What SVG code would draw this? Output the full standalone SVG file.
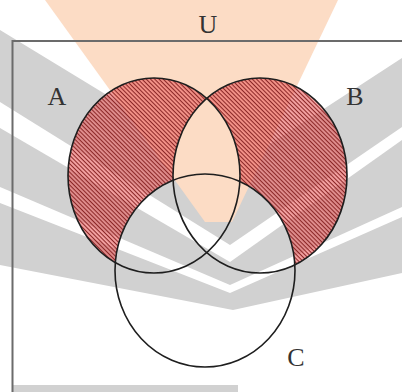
<svg xmlns="http://www.w3.org/2000/svg" width="402" height="392" viewBox="0 0 402 392">
<style>
.wm-gray{fill:#d1d1d1}
.wm-white{fill:#ffffff}
.wm-peach{fill:#fcdcc5}
.outline{fill:none;stroke:#1e1e1e;stroke-width:1.6}
.frame{fill:none;stroke:#6b6b6b;stroke-width:2}
.lbl{font-family:"Liberation Serif","Times New Roman",serif;font-size:26px;fill:#333;text-anchor:middle}
</style>
<defs>
<pattern id="hatch" width="3" height="3" patternUnits="userSpaceOnUse" patternTransform="rotate(45)">
<rect width="3" height="3" fill="#f05a5a" fill-opacity="0.55"/>
<rect width="3" height="1.1" fill="#8c2828"/>
</pattern>
<mask id="mA" maskUnits="userSpaceOnUse" x="0" y="0" width="402" height="392">
<ellipse cx="154" cy="175.5" rx="86" ry="97.5" fill="#fff"/>
<ellipse cx="260" cy="175.5" rx="87" ry="97.5" fill="#000"/>
<ellipse cx="205" cy="270.5" rx="90" ry="96.5" fill="#000"/>
</mask>
<mask id="mB" maskUnits="userSpaceOnUse" x="0" y="0" width="402" height="392">
<ellipse cx="260" cy="175.5" rx="87" ry="97.5" fill="#fff"/>
<ellipse cx="154" cy="175.5" rx="86" ry="97.5" fill="#000"/>
<ellipse cx="205" cy="270.5" rx="90" ry="96.5" fill="#000"/>
</mask>
</defs>
<rect width="402" height="392" fill="#fff"/>
<g id="watermark">
<polygon class="wm-gray" points="0,30 230,170 402,58 402,273 233,310 0,265"/>
<polygon class="wm-white" points="0,102 230,245 230,262 0,128"/>
<polygon class="wm-white" points="0,187 230,285 230,293 0,203"/>
<polygon class="wm-white" points="402,127 230,245 230,262 402,140"/>
<polygon class="wm-white" points="402,207 230,285 230,293 402,217"/>
<polygon class="wm-peach" points="45,0 338,0 232,222 205,222"/>
<rect class="wm-gray" x="13" y="385" width="225" height="7"/>
</g>
<g id="U">
<path class="frame" d="M12.5,392 V41 H402"/>
<text class="lbl" x="208" y="33">U</text>
</g>
<g id="shading">
<rect width="402" height="392" fill="url(#hatch)" mask="url(#mA)"/>
<rect width="402" height="392" fill="url(#hatch)" mask="url(#mB)"/>
</g>
<g id="A">
<ellipse class="outline" cx="154" cy="175.5" rx="86" ry="97.5"/>
<text class="lbl" x="57" y="105">A</text>
</g>
<g id="B">
<ellipse class="outline" cx="260" cy="175.5" rx="87" ry="97.5"/>
<text class="lbl" x="355" y="105">B</text>
</g>
<g id="C">
<ellipse class="outline" cx="205" cy="270.5" rx="90" ry="96.5"/>
<text class="lbl" x="296" y="366">C</text>
</g>
</svg>
